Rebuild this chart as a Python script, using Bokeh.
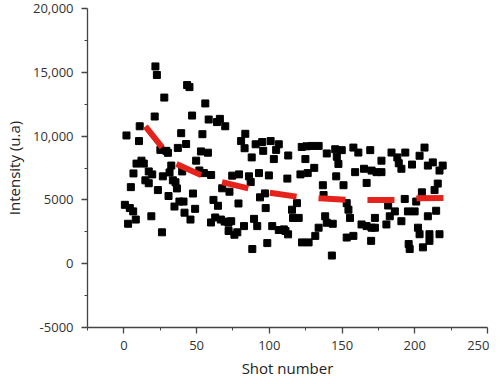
from bokeh.plotting import figure
from bokeh.models import FixedTicker, ColumnDataSource
from bokeh.embed import file_html
from bokeh.resources import INLINE

# shot number / intensity
shot = [0.7, 1.8, 2.9, 4.1, 4.8, 6.4, 6.6, 8.2, 8.7, 10.4, 10.9, 12.1, 13.7, 14.8, 17.1, 17.1, 19.5,
        18.9, 21.2, 21.7, 22.7, 23.4, 25.1, 26.2, 26.8, 27.8, 29.2, 30.3, 30.7, 31.4, 32.6, 33.7,
        34.8, 35.5, 36.5, 37.1, 38.2, 39.4, 40.1, 41.0, 41.7, 42.8, 43.5, 45.1, 45.8, 46.9, 47.5,
        49.0, 49.7, 51.9, 53.0, 54.0, 55.0, 56.0, 57.8, 58.3, 60.0, 59.9, 61.6, 62.8, 64.0, 66.0,
        64.7, 66.7, 67.6, 69.3, 69.7, 71.9, 72.0, 72.6, 73.8, 74.5, 76.0, 78.0, 78.8, 79.2, 80.6,
        83.0, 82.6, 83.5, 86.0, 87.2, 87.9, 88.3, 89.5, 90.6, 91.7, 92.9, 93.6, 95.1, 95.8, 97.0,
        97.5, 98.6, 99.7, 100.9, 102.0, 103.1, 104.7, 106.5, 106.5, 110.0, 111.1, 112.4, 113.0,
        112.9, 115.6, 116.3, 119.0, 120.2, 121.4, 122.5, 122.3, 125.5, 129.3, 133.9, 124.8, 126.4,
        127.0, 130.9, 131.6, 133.9, 136.8, 137.3, 138.4, 139.5, 139.5, 143.0, 143.6, 145.3, 146.0,
        146.4, 147.5, 149.8, 151.0, 153.2, 153.2, 154.4, 155.5, 157.8, 157.8, 159.0, 161.2, 163.4,
        165.1, 166.9, 166.9, 169.4, 170.0, 170.3, 170.3, 172.6, 172.6, 173.7, 177.1, 177.1, 180.5,
        181.7, 182.8, 184.0, 186.3, 188.0, 189.0, 190.8, 190.8, 193.1, 193.5, 195.3, 195.8, 196.5,
        198.1, 199.9, 201.0, 202.2, 203.3, 203.3, 204.9, 205.6, 206.7, 209.0, 209.0, 210.1, 210.1,
        212.4, 213.6, 214.7, 215.8, 217.0, 217.0, 219.2]
intensity = [4615, 10050, 3130, 4360, 6000, 4100, 7075, 3460, 7845, 9610, 10770, 8075, 7845, 6535, 6305, 7230, 7000,
             3715, 11535, 15460, 14790, 5770, 8920, 2460, 6845, 13020, 8845, 8690, 5305, 7150, 7690, 6535,
             4480, 6380, 5900, 9075, 4870, 10230, 7230, 4870, 4000, 9380, 14000, 13840, 3460, 11610, 5500,
             4300, 8075, 7305, 8800, 10150, 7100, 12560, 8700, 11300, 6950, 3230, 5000, 3620, 11100, 11350,
             4540, 3460, 5910, 3300, 10770, 3210, 2560, 5640, 3330, 6900, 2270, 2460, 4720, 7000, 9610,
             9050, 2945, 10180, 6845, 6400, 8330, 1150, 3515, 9360, 2945, 7100, 5200, 9535, 8845, 5510,
             4360, 1615, 6920, 9610, 2945, 8200, 8920, 9360, 2640, 2690, 2560, 6670, 8480,
             2300, 4230, 3590, 4745, 3590, 7000, 1670, 9150, 9200, 9230, 9230, 8200, 7100,
             1670, 7510, 2180, 2820, 6150, 5380, 3715, 3210, 8640, 640, 3130, 8970, 6845,
             8380, 7820, 8900, 6150, 4745, 2050, 4230, 3590, 9100, 2180, 7175, 8710, 3075,
             7440, 6330, 2945, 8900, 1790, 7300, 2820, 3590, 2820, 7175, 8075, 7175, 3075,
             4560, 3715, 8710, 4100, 8330, 7870, 7440, 3330, 5075, 8710, 4100, 1540, 1150,
             7770, 4100, 4870, 2820, 2310, 8460, 5590, 1280, 9100, 7690, 3715, 2310, 1790,
             7940, 5770, 4150, 6280, 7300, 2310, 7690]

# trend (red dashed)
trend_shot = [14.8, 26.4, 36.0, 51.9, 67.4, 85.6, 100.2, 119.0, 134.3, 153.2, 168.5, 187.3, 202.6, 221.5]
trend_int = [10770, 9100, 7820, 7000, 6400, 5900, 5560, 5250, 5130, 5000, 5000, 5000, 5130, 5150]

x_ticks = [0, 50, 100, 150, 200, 250]
x_minor = [-25, 25, 75, 125, 175, 225]
y_ticks = [-5000, 0, 5000, 10000, 15000, 20000]
y_tick_labels = ["-5000", "0", "5000", "10,000", "15,000", "20,000"]
y_minor = [-2500, 2500, 7500, 12500, 17500]

p = figure(frame_width=400, frame_height=319, output_backend="svg", toolbar_location=None,
           x_range=(-25, 250), y_range=(-5000, 20000))
p.min_border_left = 79
p.min_border_right = 2
p.min_border_top = 8
p.min_border_bottom = 30
p.outline_line_color = None
p.grid.grid_line_color = None
p.background_fill_color = "white"
p.border_fill_color = "white"

src = ColumnDataSource(dict(x=shot, y=intensity))
p.scatter("x", "y", source=src, marker="square", size=7, fill_color="black", line_color="black")
p.line(trend_shot, trend_int, line_color="#e5231b", line_width=6, line_dash="27 22", line_cap="butt")

font = "Open Sans"
for ax in (p.xaxis[0], p.yaxis[0]):
    ax.axis_line_color = "#444444"
    ax.axis_line_width = 1.3
    ax.major_tick_line_color = "#444444"
    ax.minor_tick_line_color = "#444444"
    ax.major_tick_line_width = 1.3
    ax.minor_tick_line_width = 1.0
    ax.major_tick_in = 0
    ax.major_tick_out = 6
    ax.minor_tick_in = 0
    ax.minor_tick_out = 3
    ax.major_label_text_font = font
    ax.major_label_text_font_size = "13px"
    ax.major_label_text_color = "#333333"
    ax.axis_label_text_font = font
    ax.axis_label_text_font_size = "15px"
    ax.axis_label_text_font_style = "normal"
    ax.axis_label_text_color = "#222222"

p.xaxis.ticker = FixedTicker(ticks=x_ticks, minor_ticks=x_minor)
p.yaxis.ticker = FixedTicker(ticks=y_ticks, minor_ticks=y_minor)
p.yaxis.major_label_overrides = {t: l for t, l in zip(y_ticks, y_tick_labels)}
p.xaxis.axis_label = "Shot number"
p.yaxis.axis_label = "Intensity (u.a)"
p.xaxis.major_label_standoff = 7
p.xaxis.axis_label_standoff = 5
p.yaxis.major_label_standoff = 8
p.yaxis.axis_label_standoff = 6

open("out.html", "w").write(file_html(p, INLINE))
